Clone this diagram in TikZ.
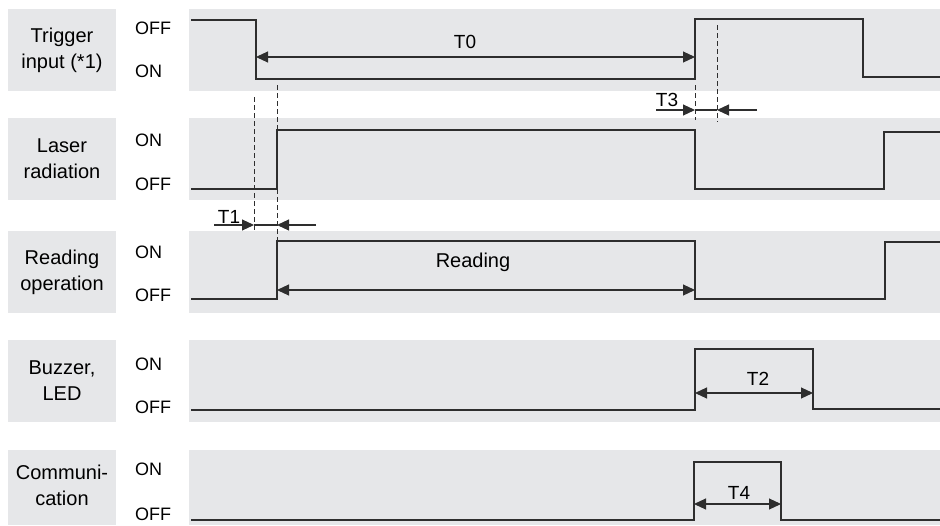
\documentclass[tikz,border=0pt]{standalone}
\usepackage{fontspec}
\setmainfont{Liberation Sans}
\usetikzlibrary{arrows.meta}

\definecolor{bandgray}{HTML}{E6E7E9}
\definecolor{sigline}{HTML}{2E2E2E}

\begin{document}
\begin{tikzpicture}[x=1pt, y=-1pt,
  >={Triangle[length=12pt,width=11pt]},
  band/.style={fill=bandgray},
  rowlabel/.style={fill=bandgray, minimum width=108pt, minimum height=82pt,
    inner sep=0pt, align=center, font=\fontsize{20}{26}\selectfont},
  level/.style={anchor=west, inner sep=0pt, font=\fontsize{18}{18}\selectfont},
  tlabel/.style={anchor=base, inner sep=0pt, font=\fontsize{19}{19}\selectfont},
  signal/.style={draw=sigline, line width=1.4pt},
  span/.style={draw=sigline, line width=1.1pt},
  guide/.style={draw=sigline, line width=1pt, dash pattern=on 5pt off 3pt}]

\useasboundingbox (0,0) rectangle (940,525);

% signal bands
\fill[band] (189,9) rectangle (940,91);
\fill[band] (189,118) rectangle (940,200);
\fill[band] (189,231) rectangle (940,313);
\fill[band] (189,340) rectangle (940,422);
\fill[band] (189,450) rectangle (940,525);

% row labels
\node[rowlabel] (trig) at (62,50) {Trigger\\input (*1)};
\node[rowlabel] (laser) at (62,159) {Laser\\radiation};
\node[rowlabel] (read) at (62,272) {Reading\\operation};
\node[rowlabel] (buzz) at (62,381) {Buzzer,\\LED};
\node[rowlabel, minimum height=75pt] (comm) at (62,487.5) {Communi-\\cation\vphantom{p}};

% levels
\node[level] (trigoff) at (135,28) {OFF};
\node[level] (trigon) at (135,71) {ON};
\node[level] (laseron) at (135,140) {ON};
\node[level] (laseroff) at (135,184) {OFF};
\node[level] (readon) at (135,252) {ON};
\node[level] (readoff) at (135,295) {OFF};
\node[level] (buzzon) at (135,364) {ON};
\node[level] (buzzoff) at (135,407) {OFF};
\node[level] (common) at (135,469) {ON};
\node[level] (commoff) at (135,514) {OFF};

% waveforms
\draw[signal] (191,20) -- (256,20) -- (256,79) -- (695,79) -- (695,19)
  -- (863,19) -- (863,77) -- (940,77);
\draw[signal] (191,189) -- (277,189) -- (277,130) -- (695,130) -- (695,189)
  -- (884,189) -- (884,132) -- (940,132);
\draw[signal] (191,299) -- (277,299) -- (277,241) -- (695,241) -- (695,299)
  -- (885,299) -- (885,242) -- (940,242);
\draw[signal] (191,410) -- (695,410) -- (695,349) -- (813,349) -- (813,409)
  -- (940,409);
\draw[signal] (191,520) -- (694,520) -- (694,462) -- (781,462) -- (781,520)
  -- (940,520);

% guide lines
\draw[guide] (254,97) -- (254,230);
\draw[guide] (277,85) -- (277,241);
\draw[guide] (695,85) -- (695,120);
\draw[guide] (717,25) -- (717,122);

% arrow ends
\coordinate (t0l) at (256,57);
\coordinate (t0r) at (695,57);
\coordinate (t1in) at (214,225);
\coordinate (t1a) at (254,225);
\coordinate (t1b) at (277,225);
\coordinate (t1out) at (316,225);
\coordinate (t3in) at (656,110);
\coordinate (t3a) at (695,110);
\coordinate (t3b) at (717,110);
\coordinate (t3out) at (757,110);
\coordinate (rdl) at (277,290);
\coordinate (rdr) at (695,290);
\coordinate (t2l) at (695,393);
\coordinate (t2r) at (813,393);
\coordinate (t4l) at (694,504);
\coordinate (t4r) at (781,504);

% time spans
\draw[span, <->] (t0l) -- (t0r);
\draw[span, ->] (t1in) -- (t1a);
\draw[span, ->] (t1out) -- (t1b);
\draw[span] (t1a) -- (t1b);
\draw[span, ->] (t3in) -- (t3a);
\draw[span, ->] (t3out) -- (t3b);
\draw[span] (t3a) -- (t3b);
\draw[span, <->] (rdl) -- (rdr);
\draw[span, <->] (t2l) -- (t2r);
\draw[span, <->] (t4l) -- (t4r);

% labels
\node[tlabel] (lt0) at (465,48) {T0};
\node[tlabel] (lt1) at (229,223) {T1};
\node[tlabel] (lt3) at (667,106) {T3};
\node[tlabel, font=\fontsize{20}{20}\selectfont] (lrd) at (473,267) {Reading};
\node[tlabel] (lt2) at (758,385) {T2};
\node[tlabel] (lt4) at (739,499) {T4};

\end{tikzpicture}
\end{document}
